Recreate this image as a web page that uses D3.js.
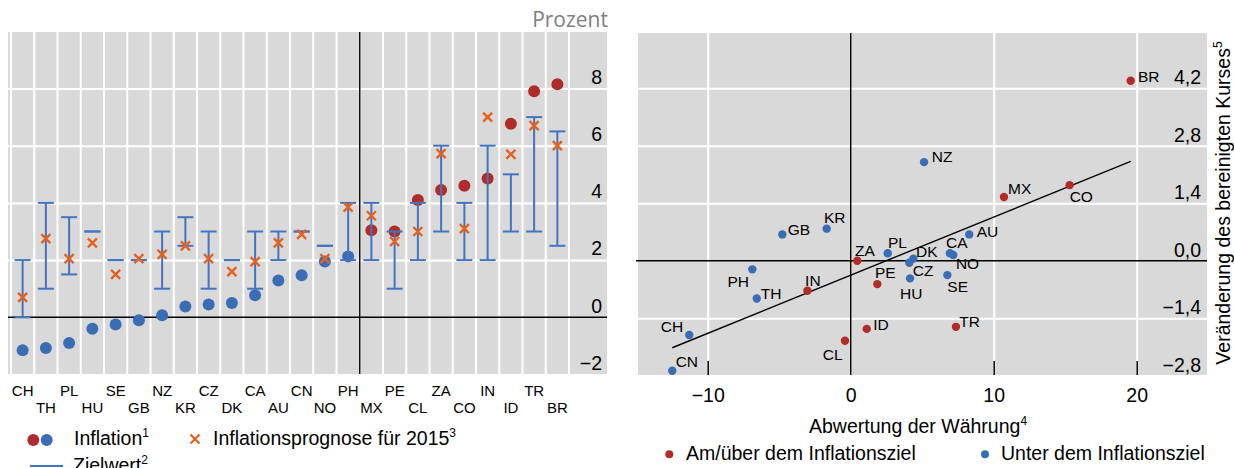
<!DOCTYPE html>
<html>
<head>
<meta charset="utf-8">
<script src="https://cdn.jsdelivr.net/npm/d3@7"></script>
<style>
body{margin:0;background:#fff;}
svg{font-family:"Liberation Sans",Arial,sans-serif;}
.grid line{stroke:#fff;stroke-width:2;}
.grid path,.lbl path{display:none;}
</style>
</head>
<body>
<svg id="chart" width="1234" height="468"></svg>
<script>
// left panel: inflation vs target, per country
var countries=["CH","TH","PL","HU","SE","GB","NZ","KR","CZ","DK","CA","AU","CN","NO","PH","MX","PE","CL","ZA","CO","IN","ID","TR","BR"];
var inflation=[-1.15,-1.07,-0.9,-0.4,-0.25,-0.1,0.07,0.38,0.45,0.5,0.77,1.29,1.47,1.95,2.13,3.04,3.0,4.1,4.45,4.6,4.85,6.77,7.9,8.15];
var forecast=[0.7,2.75,2.05,2.6,1.5,2.05,2.2,2.5,2.05,1.6,1.95,2.6,2.9,2.05,3.85,3.55,2.65,3.0,5.72,3.1,7.0,5.7,6.7,6.0];
var targetLow=[0,1,1.5,3,2,2,1,2.5,1,2,1,2,3,2.5,2,2,1,2,3,2,2,3,3,2.5];
var targetHigh=[2,4,3.5,3,2,2,3,3.5,3,2,3,3,3,2.5,4,4,3,4,6,4,6,5,7,6.5];
var aboveTarget=["MX","PE","CL","ZA","CO","IN","ID","TR","BR"];
var yTicksLeft=[-2,0,2,4,6,8];
var yLabelsLeft=["\u22122","0","2","4","6","8"];

// right panel: depreciation vs adjusted rate change
var scatterCountries=["CH","CN","TH","PH","GB","KR","IN","CL","ZA","ID","PE","PL","HU","CZ","DK","NZ","SE","CA","NO","TR","AU","MX","CO","BR"];
var depreciation=[-11.29,-12.48,-6.57,-6.88,-4.78,-1.68,-3.03,-0.40,0.46,1.12,1.86,2.59,4.15,4.10,4.38,5.13,6.76,6.94,7.17,7.36,8.29,10.72,15.31,19.58];
var rateChange=[-1.81,-2.68,-0.92,-0.21,0.64,0.78,-0.73,-1.95,0.0,-1.66,-0.57,0.18,-0.43,-0.05,0.05,2.40,-0.35,0.18,0.14,-1.61,0.64,1.55,1.84,4.38];
var fitX=[-12.48,19.58];
var fitY=[-2.12,2.42];
var xTicksRight=[-10,0,10,20];
var xLabelsRight=["\u221210","0","10","20"];
var yTicksRight=[-2.8,-1.4,0,1.4,2.8,4.2];
var yLabelsRight=["\u22122,8","\u22121,4","0,0","1,4","2,8","4,2"];

var RED="#b02c2a",BLUE="#3a6db4",ORANGE="#e4621f",BAR="#4574be";

// label placement for scatter names (dx, dy, anchor)
var labelPos={
  NZ:[7.7,-6,"start"],GB:[5.4,-5,"start"],KR:[-2.7,-11.4,"start"],BR:[7.3,-4.7,"start"],
  MX:[4,-8.7,"start"],CO:[0,11.7,"start"],AU:[7.4,-2.6,"start"],ZA:[-2.3,-10.7,"start"],
  PL:[0.3,-10.6,"start"],DK:[2.7,-7.7,"start"],CZ:[3.4,7.3,"start"],PE:[-2.3,-11.7,"start"],
  HU:[-10,15,"start"],PH:[-3.3,11.7,"end"],TH:[4,-5,"start"],IN:[-2.3,-10.7,"start"],
  CH:[-6,-9,"end"],CN:[3.4,-9,"start"],ID:[6.6,-4.7,"start"],CL:[-2.3,13.3,"end"],
  SE:[0,11.7,"start"],CA:[-4,-10.6,"start"],NO:[2.7,8.3,"start"],TR:[3.3,-5,"start"]
};

var svg=d3.select("#chart");

function sup(sel,txt){
  sel.append("tspan").attr("font-size","12px").attr("dy","-8").text(txt);
}

// ---------------- left panel
var L={x0:8,x1:607,y0:32,y1:374};
var xL=d3.scaleBand().domain(countries).range([11,569]);
var yL=d3.scaleLinear().domain([-2,10]).range([374.5,31.3]);

var left=svg.append("g");
left.append("rect").attr("x",L.x0).attr("y",L.y0).attr("width",L.x1-L.x0).attr("height",L.y1-L.y0).attr("fill","#d9d9d9");

var edges=countries.map(function(c){return xL(c);}).concat([xL.range()[1]]);
left.selectAll(".vgrid").data(edges).enter().append("line")
  .attr("x1",d=>d).attr("x2",d=>d).attr("y1",L.y0).attr("y2",L.y1)
  .attr("stroke","#fff").attr("stroke-width",2);

left.append("g").attr("class","grid").attr("transform","translate("+L.x0+",0)")
  .call(d3.axisRight(yL).tickValues([2,4,6,8]).tickSize(L.x1-L.x0).tickFormat(""));

left.append("line").attr("x1",L.x0).attr("x2",L.x1).attr("y1",yL(0)).attr("y2",yL(0))
  .attr("stroke","#000").attr("stroke-width",1.6);
left.append("line").attr("x1",xL("MX")).attr("x2",xL("MX")).attr("y1",L.y0).attr("y2",L.y1)
  .attr("stroke","#000").attr("stroke-width",1.4);

var yAxL=left.append("g").attr("class","lbl").attr("transform","translate(602,0)")
  .call(d3.axisLeft(yL).tickValues(yTicksLeft).tickSize(0).tickPadding(0)
    .tickFormat(function(d,i){return yLabelsLeft[i];}));
yAxL.selectAll("text").attr("font-size","19.5px").attr("font-family","Liberation Sans, Arial, sans-serif")
  .attr("fill","#000").attr("dy","-0.27em");

var bw=xL.bandwidth(),cx=function(c){return xL(c)+bw/2;};

// dots
left.selectAll(".dot").data(countries).enter().append("circle")
  .attr("cx",cx).attr("cy",(d,i)=>yL(inflation[i])).attr("r",6)
  .attr("fill",d=>aboveTarget.indexOf(d)>=0?RED:BLUE);

// target ranges
var tg=left.selectAll(".tgt").data(countries).enter().append("g")
  .attr("stroke",BAR).attr("stroke-width",2);
tg.append("line").attr("x1",cx).attr("x2",cx)
  .attr("y1",(d,i)=>yL(targetHigh[i])).attr("y2",(d,i)=>yL(targetLow[i]));
tg.append("line").attr("x1",d=>cx(d)-8).attr("x2",d=>cx(d)+8)
  .attr("y1",(d,i)=>yL(targetHigh[i])).attr("y2",(d,i)=>yL(targetHigh[i]));
tg.append("line").attr("x1",d=>cx(d)-8).attr("x2",d=>cx(d)+8)
  .attr("y1",(d,i)=>yL(targetLow[i])).attr("y2",(d,i)=>yL(targetLow[i]));

// forecast crosses
var crossPath="M-4.5,-4.5L4.5,4.5M-4.5,4.5L4.5,-4.5";
left.selectAll(".fc").data(countries).enter().append("path")
  .attr("d",crossPath)
  .attr("transform",(d,i)=>"translate("+cx(d)+","+yL(forecast[i])+")")
  .attr("stroke",ORANGE).attr("stroke-width",2.4).attr("fill","none");

// category labels, two rows
var xAxL=left.append("g").attr("class","lbl").attr("transform","translate(0,"+L.y1+")")
  .call(d3.axisBottom(xL).tickSize(0));
xAxL.selectAll("text").attr("font-size","15px").attr("font-family","Liberation Sans, Arial, sans-serif")
  .attr("fill","#000").attr("dy",0)
  .attr("y",(d,i)=>i%2===0?22.4:39);

svg.append("text").attr("x",608).attr("y",26.7).attr("text-anchor","end")
  .attr("font-family","Open Sans, sans-serif").attr("font-size","21px").attr("fill","#808080")
  .text("Prozent");

// left legend
var lg=svg.append("g").attr("font-size","19.5px");
lg.append("circle").attr("cx",33.3).attr("cy",440).attr("r",6).attr("fill",RED);
lg.append("circle").attr("cx",46.7).attr("cy",440).attr("r",6).attr("fill",BLUE);
sup(lg.append("text").attr("x",74).attr("y",445).text("Inflation"),"1");
lg.append("path").attr("d",crossPath).attr("transform","translate(195,439)")
  .attr("stroke",ORANGE).attr("stroke-width",2.2).attr("fill","none");
sup(lg.append("text").attr("x",213).attr("y",445).text("Inflationsprognose für 2015"),"3");
lg.append("line").attr("x1",30).attr("x2",63).attr("y1",466).attr("y2",466).attr("stroke",BAR).attr("stroke-width",2);
sup(lg.append("text").attr("x",73).attr("y",471.5).text("Zielwert"),"2");

// ---------------- right panel
var R={x0:636,x1:1207,y0:33,y1:375};
var xR=d3.scaleLinear().domain([-15,25]).range([636.2,1208.2]);
var yR=d3.scaleLinear().domain([-2.8,5.6]).range([375.7,30.7]);

var right=svg.append("g");
right.append("rect").attr("x",R.x0).attr("y",R.y0).attr("width",R.x1-R.x0).attr("height",R.y1-R.y0).attr("fill","#d9d9d9");
right.append("line").attr("x1",R.x0+1).attr("x2",R.x0+1).attr("y1",R.y0).attr("y2",R.y1).attr("stroke","#fff").attr("stroke-width",2);

right.append("g").attr("class","grid").attr("transform","translate(0,"+R.y0+")")
  .call(d3.axisBottom(xR).tickValues([-10,10,20]).tickSize(R.y1-R.y0).tickFormat(""));
right.append("g").attr("class","grid").attr("transform","translate("+R.x0+",0)")
  .call(d3.axisRight(yR).tickValues([-1.4,1.4,2.8,4.2]).tickSize(R.x1-R.x0).tickFormat(""));

right.append("line").attr("x1",xR(0)).attr("x2",xR(0)).attr("y1",R.y0).attr("y2",R.y1)
  .attr("stroke","#000").attr("stroke-width",1.4);
right.append("line").attr("x1",R.x0).attr("x2",R.x1).attr("y1",yR(0)).attr("y2",yR(0))
  .attr("stroke","#000").attr("stroke-width",1.4);

// inward ticks at bottom
var tk=right.append("g").attr("transform","translate(0,"+R.y1+")")
  .call(d3.axisBottom(xR).tickValues([-10,10,20]).tickSizeInner(-14).tickSizeOuter(0).tickFormat(""));
tk.select(".domain").remove();
tk.selectAll("line").attr("stroke","#000").attr("stroke-width",1.5);

var xAxR=right.append("g").attr("class","lbl").attr("transform","translate(0,"+R.y1+")")
  .call(d3.axisBottom(xR).tickValues(xTicksRight).tickSize(0)
    .tickFormat(function(d,i){return xLabelsRight[i];}));
xAxR.selectAll("text").attr("font-size","19.5px").attr("font-family","Liberation Sans, Arial, sans-serif")
  .attr("fill","#000").attr("dy",0).attr("y",27);

var yAxR=right.append("g").attr("class","lbl").attr("transform","translate(1201,0)")
  .call(d3.axisLeft(yR).tickValues(yTicksRight).tickSize(0).tickPadding(0)
    .tickFormat(function(d,i){return yLabelsRight[i];}));
yAxR.selectAll("text").attr("font-size","19.5px").attr("font-family","Liberation Sans, Arial, sans-serif")
  .attr("fill","#000").attr("dy","-0.24em");

var fitLine=d3.line().x(d=>xR(d[0])).y(d=>yR(d[1]));
right.append("path").attr("d",fitLine(d3.zip(fitX,fitY)))
  .attr("stroke","#000").attr("stroke-width",1.4).attr("fill","none");

var pts=right.selectAll(".pt").data(scatterCountries).enter().append("g")
  .attr("transform",(d,i)=>"translate("+xR(depreciation[i])+","+yR(rateChange[i])+")");
pts.append("circle").attr("r",4.2).attr("fill",d=>aboveTarget.indexOf(d)>=0?RED:BLUE);
pts.append("text").attr("font-size","15.5px").attr("dy","0.36em")
  .attr("x",d=>labelPos[d][0]).attr("y",d=>labelPos[d][1])
  .attr("text-anchor",d=>labelPos[d][2]).text(d=>d);

// axis titles
sup(svg.append("text").attr("x",809).attr("y",432.5).attr("font-size","19.5px")
  .text("Abwertung der Währung"),"4");
sup(svg.append("text").attr("transform","translate(1230,203) rotate(-90)")
  .attr("text-anchor","middle").attr("font-size","19.5px")
  .text("Veränderung des bereinigten Kurses"),"5");

// right legend
var rg=svg.append("g").attr("font-size","19.5px");
rg.append("circle").attr("cx",669.3).attr("cy",454.3).attr("r",4).attr("fill",RED);
rg.append("text").attr("x",686).attr("y",459.7).text("Am/über dem Inflationsziel");
rg.append("circle").attr("cx",985).attr("cy",454.3).attr("r",4).attr("fill",BLUE);
rg.append("text").attr("x",1001).attr("y",459.7).text("Unter dem Inflationsziel");
</script>
</body>
</html>
